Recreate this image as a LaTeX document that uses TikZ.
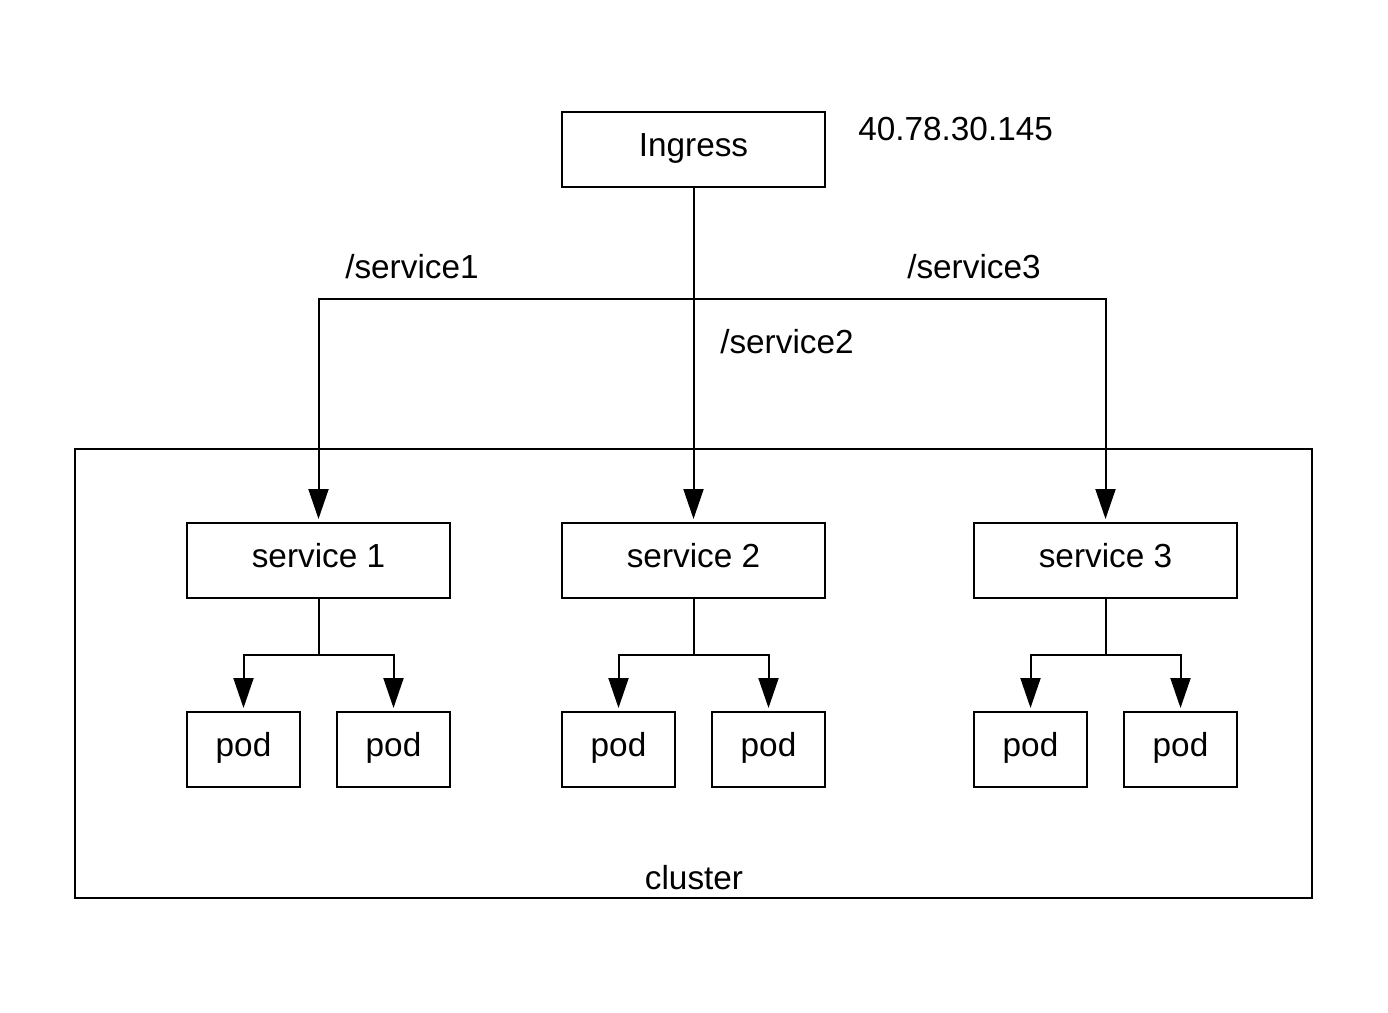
\documentclass[tikz,border=0pt]{standalone}
\usepackage{fontspec}
\setmainfont{Liberation Sans}
\usetikzlibrary{arrows.meta}
\newlength\px
\setlength\px{0.75pt}
\tikzset{
  box/.style={draw, line width=1.5pt, inner sep=0pt, text height=18pt, text depth=7pt, font=\fontsize{25}{30}\selectfont},
  svcbox/.style={box, minimum width=263\px, minimum height=75\px},
  podbox/.style={box, minimum width=113\px, minimum height=75\px},
  lbl/.style={inner sep=0pt, font=\fontsize{25}{30}\selectfont},
  conn/.style={line width=1.5pt},
  arr/.style={conn, -{Triangle[length=22.5pt, width=15pt]}, shorten >=2.25pt},
}
\begin{document}
\begin{tikzpicture}[x=0.75pt, y=-0.75pt]
\useasboundingbox (0,0) rectangle (1388,1013);
\node[draw, line width=1.5pt, minimum width=1237\px, minimum height=449\px, inner sep=0pt] (cluster) at (693.5,673.5) {};
\node[lbl] (clusterlbl) at (694,878) {cluster};
\node[svcbox] (ingress) at (693.5,149.5) {Ingress};
\node[lbl, anchor=west] (ip) at (858,129) {40.78.30.145};
\node[svcbox] (s1) at (318.5,560.5) {service 1};
\node[svcbox] (s2) at (693.5,560.5) {service 2};
\node[svcbox] (s3) at (1105.5,560.5) {service 3};
\node[podbox] (p1) at (243.5,749.5) {pod};
\node[podbox] (p2) at (393.5,749.5) {pod};
\node[podbox] (p3) at (618.5,749.5) {pod};
\node[podbox] (p4) at (768.5,749.5) {pod};
\node[podbox] (p5) at (1030.5,749.5) {pod};
\node[podbox] (p6) at (1180.5,749.5) {pod};
\node[lbl, anchor=west] (l1) at (345,267) {/service1};
\node[lbl, anchor=west] (l3) at (907,267) {/service3};
\node[lbl, anchor=west] (l2) at (720,342) {/service2};
\coordinate (jn) at (693.5,299);
\draw[arr] (ingress.south) -- (s2.north);
\draw[arr] (jn) -| (s1.north);
\draw[arr] (jn) -| (s3.north);
\coordinate (b1) at (318.5,655);
\coordinate (b2) at (693.5,655);
\coordinate (b3) at (1105.5,655);
\draw[conn] (s1.south) -- (b1);
\draw[conn] (s2.south) -- (b2);
\draw[conn] (s3.south) -- (b3);
\draw[arr] (b1) -| (p1.north);
\draw[arr] (b1) -| (p2.north);
\draw[arr] (b2) -| (p3.north);
\draw[arr] (b2) -| (p4.north);
\draw[arr] (b3) -| (p5.north);
\draw[arr] (b3) -| (p6.north);
\end{tikzpicture}
\end{document}
